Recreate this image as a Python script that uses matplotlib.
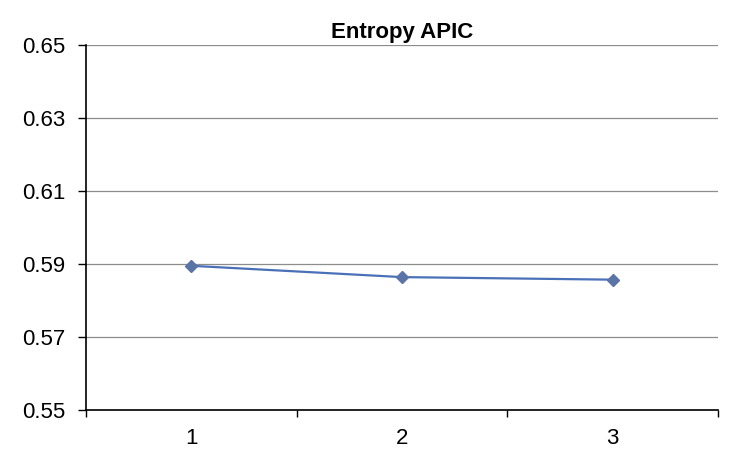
import matplotlib

matplotlib.use("Agg")
import matplotlib.pyplot as plt  # noqa: E402
from matplotlib.ticker import FixedLocator  # noqa: E402

plt.rcParams["font.family"] = ["Liberation Sans", "DejaVu Sans"]

# data
categories = ["1", "2", "3"]
entropy = [0.5895, 0.5864, 0.5857]
y_ticks = [0.55, 0.57, 0.59, 0.61, 0.63, 0.65]

fig = plt.figure(figsize=(7.39, 4.5), dpi=100)
ax = fig.add_axes([0.1164, 0.089, 0.855, 0.811])

x = list(range(1, len(categories) + 1))
ax.plot(x, entropy, "-", color="#4A70B8", lw=1.6, zorder=3)
ax.plot(x, entropy, "D", color="#5A74A8", ms=6, zorder=4)

ax.set_xlim(0.5, len(categories) + 0.5)
ax.set_ylim(0.55, 0.65)
ax.set_yticks(y_ticks)
ax.set_yticklabels([f"{v:.2f}" for v in y_ticks])
ax.set_xticks(x)
ax.set_xticklabels(categories)
ax.xaxis.set_minor_locator(FixedLocator([0.5 + i for i in range(len(categories) + 1)]))

ax.tick_params(axis="x", which="major", length=0, labelsize=16, pad=13)
ax.tick_params(axis="x", which="minor", length=5, width=1, direction="out")
ax.tick_params(axis="y", length=6, width=1, direction="out", labelsize=16, pad=9)

ax.grid(axis="y", color="#8c8c8c", lw=0.9)
ax.set_axisbelow(True)
for s in ("top", "right"):
    ax.spines[s].set_visible(False)
for s in ("left", "bottom"):
    ax.spines[s].set_linewidth(1.2)
    ax.spines[s].set_color("black")

ax.set_title("Entropy APIC", fontsize=16, fontweight="bold", pad=5)

fig.savefig("out.png", dpi=100, facecolor="white")
